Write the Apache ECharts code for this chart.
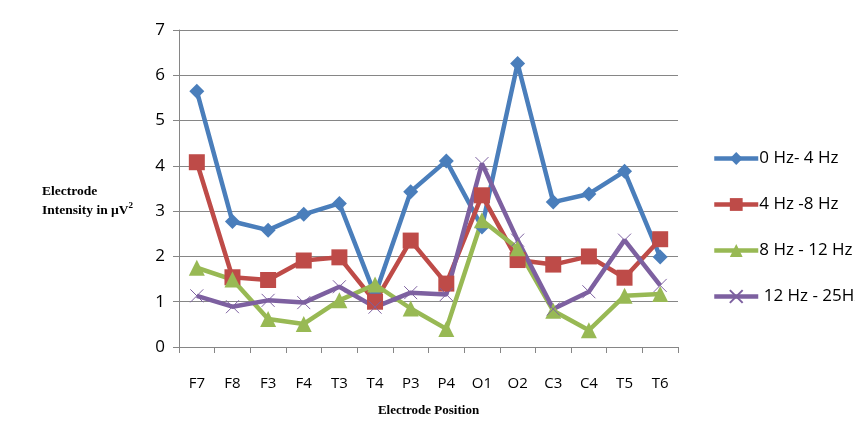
<!DOCTYPE html>
<html><head><meta charset="utf-8">
<script src="https://cdn.jsdelivr.net/npm/echarts@6/dist/echarts.min.js"></script>
<style>html,body{margin:0;padding:0;background:#fff}#c{width:855px;height:422px}</style>
</head><body><div id="c"></div>
<script>
const categories = ['F7','F8','F3','F4','T3','T4','P3','P4','O1','O2','C3','C4','T5','T6'];
const seriesNames = ['0 Hz- 4 Hz','4 Hz -8 Hz','8 Hz - 12 Hz',' 12 Hz - 25Hz'];
const band0_4 = [5.65,2.77,2.58,2.93,3.17,1.15,3.43,4.11,2.65,6.26,3.2,3.38,3.88,1.99];
const band4_8 = [4.08,1.54,1.48,1.91,1.98,1.0,2.35,1.4,3.35,1.92,1.82,2.0,1.53,2.38];
const band8_12 = [1.75,1.49,0.62,0.51,1.03,1.38,0.85,0.4,2.8,2.18,0.8,0.37,1.13,1.17];
const band12_25 = [1.13,0.89,1.03,0.98,1.33,0.88,1.2,1.16,4.05,2.36,0.84,1.22,2.36,1.36];
const yTicks = [0,1,2,3,4,5,6,7];

const colors = ['#4a7ebb','#be4b48','#98b954','#7d60a0'];
const crossPath = 'path://M0,0L10,10M10,0L0,10';
const chart = echarts.init(document.getElementById('c'));
const mk = (i, data, symbol, size, extra) => Object.assign({
  name: seriesNames[i], type: 'line', data: data, symbol: symbol, symbolSize: size,
  lineStyle: {width: 4.5, color: colors[i]},
  itemStyle: {color: colors[i]},
  emphasis: {disabled: true}, animation: false
}, extra || {});
chart.setOption({
  animation: false,
  color: colors,
  grid: {left: 179, right: 177, top: 30, bottom: 71},
  legend: {
    orient: 'vertical', left: 707, top: 145, itemGap: 29, itemWidth: 44, itemHeight: 16,
    textStyle: {fontFamily: 'Open Sans', fontSize: 17, color: '#000', padding: [0,0,0,-4]},
    lineStyle: {width: 4.5},
    data: seriesNames
  },
  xAxis: {
    type: 'category', data: categories, boundaryGap: true,
    axisLine: {lineStyle: {color: '#868686', width: 1}},
    axisTick: {show: true, length: 6, lineStyle: {color: '#868686'}},
    axisLabel: {fontFamily: 'Open Sans', fontSize: 15, color: '#000', margin: 29},
    name: 'Electrode Position', nameLocation: 'middle', nameGap: 57,
    nameTextStyle: {fontFamily: 'Liberation Serif', fontWeight: 'bold', fontSize: 13, color: '#000'}
  },
  yAxis: {
    type: 'value', min: yTicks[0], max: yTicks[yTicks.length-1], interval: 1,
    axisLine: {show: true, lineStyle: {color: '#868686', width: 1}},
    axisTick: {show: true, length: 6, lineStyle: {color: '#868686'}},
    splitLine: {lineStyle: {color: '#868686', width: 1}},
    axisLabel: {fontFamily: 'Open Sans', fontSize: 17, color: '#000', margin: 14}
  },
  graphic: [{
    type: 'text', left: 42, top: 185,
    style: {
      text: '{a|Electrode}\n{a|Intensity in µV}{s|2}',
      rich: {
        a: {fontFamily: 'Liberation Serif', fontWeight: 'bold', fontSize: 13.5, fill: '#000', lineHeight: 19},
        s: {fontFamily: 'Liberation Serif', fontWeight: 'bold', fontSize: 9, fill: '#000', verticalAlign: 'top', padding: [0,0,6,0]}
      }
    }
  }],
  series: [
    mk(0, band0_4, 'diamond', 15),
    mk(1, band4_8, 'rect', 16),
    mk(2, band8_12, 'triangle', 16),
    mk(3, band12_25, crossPath, 13, {itemStyle: {color: 'rgba(0,0,0,0)', borderColor: colors[3], borderWidth: 1}})
  ]
});
</script></body></html>
